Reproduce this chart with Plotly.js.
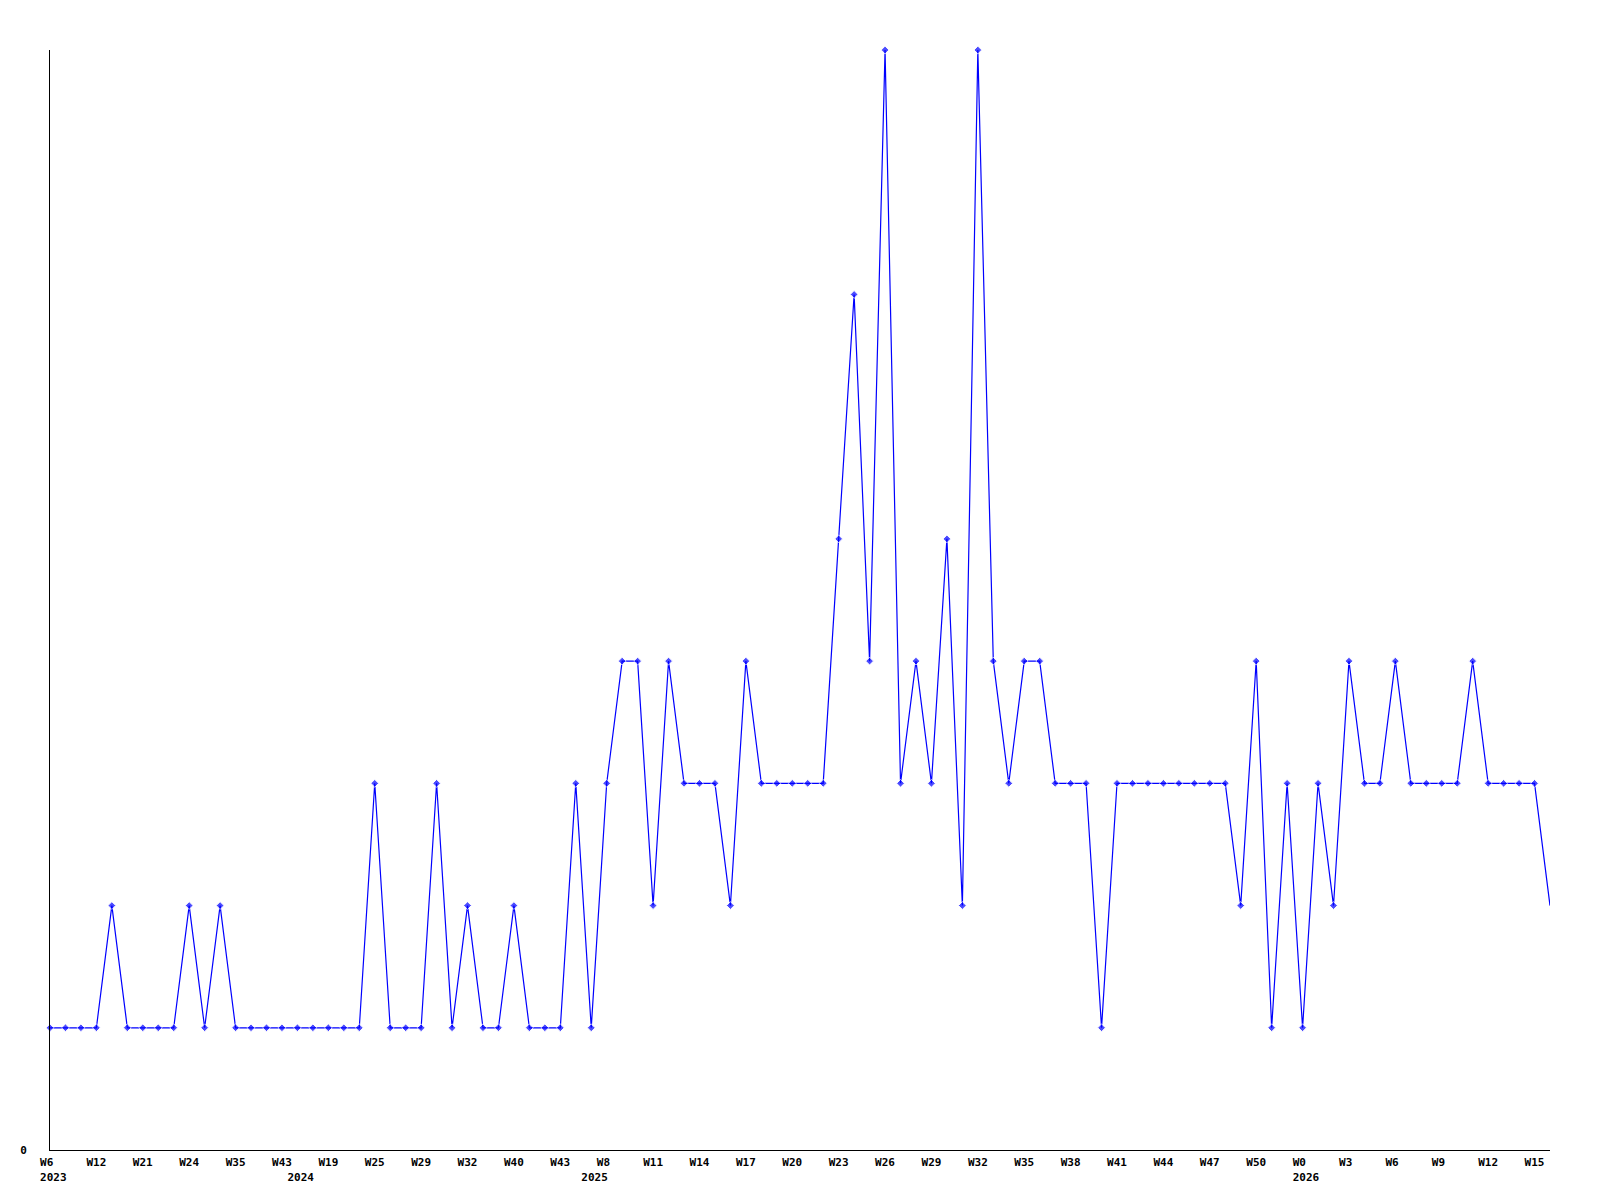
<!DOCTYPE html>
<html>
<head>
<meta charset="utf-8">
<script src="https://cdn.plot.ly/plotly-3.0.1.min.js"></script>
<style>html,body{margin:0;padding:0;background:#fff;}#chart{width:1600px;height:1200px;}</style>
</head>
<body>
<div id="chart"></div>
<script>
// Weekly counts, one per point (98 points)
const values = [
  1,1,1,1,2,1,1,1,1,2,
  1,2,1,1,1,1,1,1,1,1,
  1,3,1,1,1,3,1,2,1,1,
  2,1,1,1,3,1,3,4,4,2,
  4,3,3,3,2,4,3,3,3,3,
  3,5,7,4,9,3,4,3,5,2,
  9,4,3,4,4,3,3,3,1,3,
  3,3,3,3,3,3,3,2,4,1,
  3,1,3,2,4,3,3,4,3,3,
  3,3,4,3,3,3,3,2
];
// Week tick labels (every third point) and their positions
const tickIndex = [0,3,6,9,12,15,18,21,24,27,30,33,36,39,42,45,48,51,54,57,60,63,66,69,72,75,78,81,84,87,90,93,96];
const tickLabels = ["W6","W12","W21","W24","W35","W43","W19","W25","W29","W32","W40","W43","W8","W11","W14","W17","W20","W23","W26","W29","W32","W35","W38","W41","W44","W47","W50","W0","W3","W6","W9","W12","W15"];
// Year labels at the first point of each year
const yearIndex = [0,16,35,81];
const yearLabels = ["2023","2024","2025","2026"];

const xs = values.map((v,i)=>i);
const NB = "\u00A0";
// pad labels so monospace text starts at the same offset left of the point
const padW = s => s.length < 3 ? s + NB.repeat(3 - s.length) : s;
const padY = s => NB + s;

const font = {family: "DejaVu Sans Mono", size: 11, color: "#000", weight: "bold"};

const trace = {
  x: xs, y: values, type: "scatter", mode: "lines+markers",
  line: {color: "#0000ff", width: 1.2},
  marker: {color: "#0000ff", symbol: "diamond", size: values.map((v,i)=> i===values.length-1 ? 0 : 6)},
  hoverinfo: "x+y", cliponaxis: false
};
const yearTrace = {x: yearIndex, y: yearIndex.map(()=>0), xaxis: "x2", yaxis: "y", mode: "markers", marker: {opacity: 0}, hoverinfo: "skip", showlegend: false};

const layout = {
  width: 1600, height: 1200,
  margin: {l: 50, r: 50, t: 50, b: 50, pad: 0},
  paper_bgcolor: "#fff", plot_bgcolor: "#fff",
  showlegend: false,
  font: font,
  xaxis: {
    range: [0, 97], showgrid: false, zeroline: false,
    showline: true, linecolor: "#000", linewidth: 1,
    ticks: "", tickmode: "array", tickvals: tickIndex, ticktext: tickLabels.map(padW),
    tickfont: font, ticklabelstandoff: 2, fixedrange: true
  },
  xaxis2: {
    range: [0, 97], overlaying: "x", anchor: "y", side: "bottom",
    showgrid: false, zeroline: false, showline: false,
    ticks: "", tickmode: "array", tickvals: yearIndex, ticktext: yearLabels.map(padY),
    tickfont: font, ticklabelstandoff: 19, fixedrange: true
  },
  yaxis: {
    range: [0, 9], showgrid: false, zeroline: false,
    showline: true, linecolor: "#000", linewidth: 1,
    ticks: "", tickmode: "array", tickvals: [0], ticktext: ["0"],
    tickfont: font, ticklabelstandoff: 20, fixedrange: true
  }
};
Plotly.newPlot("chart", [trace, yearTrace], layout, {displayModeBar: false, staticPlot: true});
</script>
</body>
</html>
